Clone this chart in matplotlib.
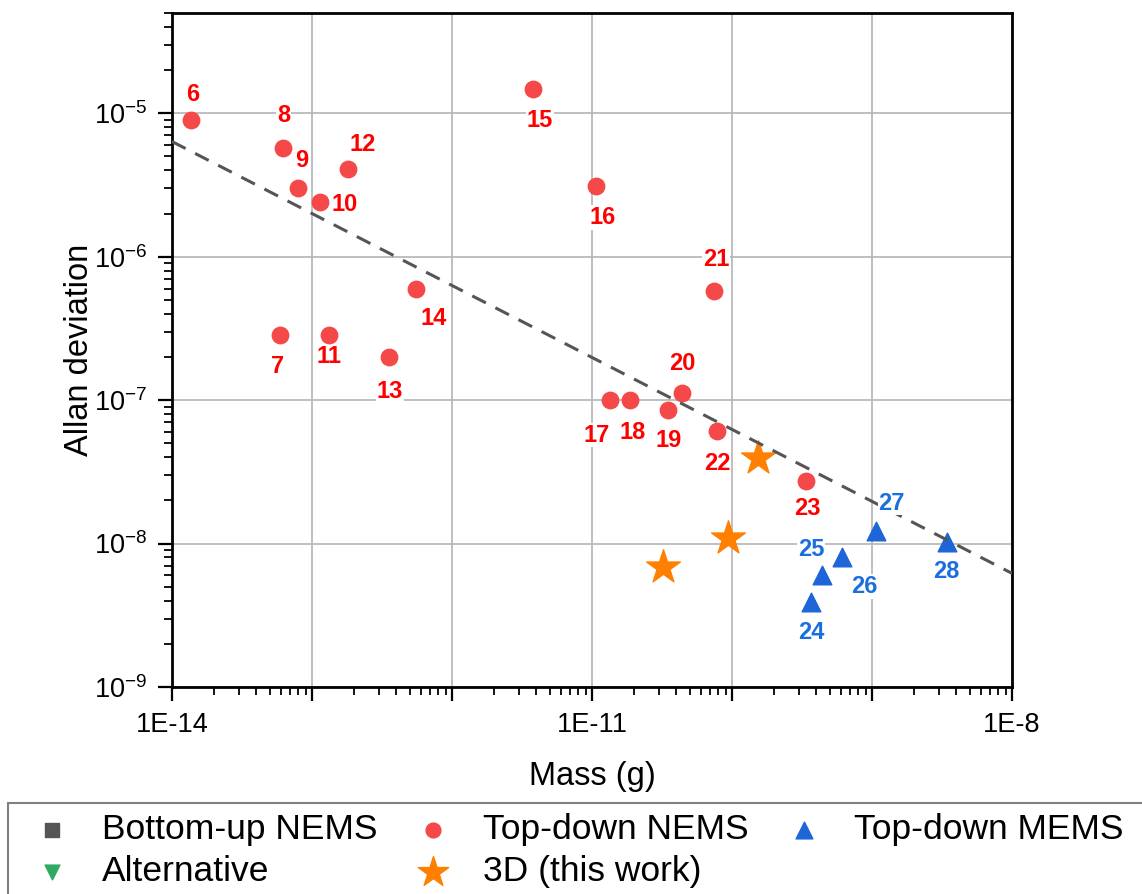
import matplotlib
matplotlib.use("Agg")
import matplotlib.pyplot as plt
from matplotlib.patches import Rectangle
from matplotlib.ticker import LogLocator, FuncFormatter, NullFormatter
import numpy as np

plt.rcParams['font.family'] = ['Liberation Sans', 'DejaVu Sans']
plt.rcParams['mathtext.fontset'] = 'custom'
plt.rcParams['mathtext.rm'] = 'Liberation Sans'

# top-down NEMS (ref numbers 6-23)
nems_ref = [6, 7, 8, 9, 10, 11, 12, 13, 14, 15, 16, 17, 18, 19, 20, 21, 22, 23]
nems_mass = [1.37e-14, 5.9e-14, 6.24e-14, 7.9e-14, 1.15e-13, 1.32e-13, 1.8e-13, 3.53e-13,
             5.5e-13, 3.77e-12, 1.06e-11, 1.35e-11, 1.87e-11, 3.49e-11, 4.4e-11, 7.44e-11,
             7.8e-11, 3.38e-10]
nems_adev = [9.0e-6, 2.85e-7, 5.77e-6, 3.0e-6, 2.42e-6, 2.85e-7, 4.07e-6, 1.99e-7,
             5.96e-7, 1.48e-5, 3.13e-6, 1.0e-7, 1.0e-7, 8.5e-8, 1.13e-7, 5.78e-7,
             6.07e-8, 2.71e-8]

# top-down MEMS (ref numbers 24-28)
mems_ref = [24, 25, 26, 27, 28]
mems_mass = [3.66e-10, 4.42e-10, 6.14e-10, 1.06e-9, 3.42e-9]
mems_adev = [3.93e-9, 6.07e-9, 8.1e-9, 1.22e-8, 1.02e-8]

# this work
work_mass = [3.23e-11, 9.36e-11, 1.53e-10]
work_adev = [6.9e-9, 1.09e-8, 3.94e-8]

# dashed trend line end points
fit_mass = [1e-14, 1e-8]
fit_adev = [6.35e-6, 6.2e-9]

# label offsets in pixels (dx, dy)
nems_off = [(2, 25), (-2, -32), (0, 32), (4, 28), (24, -3), (0, -22), (15, 25), (1, -34),
            (18, -30), (7, -32), (7, -32), (-14, -35), (3, -32), (1, -30), (0, 29), (2, 31),
            (0, -32), (1, -27)]
mems_off = [(0, -31), (-11, 25), (22, -30), (16, 28), (0, -29)]

red_m = '#f54848'
red_t = '#ff0000'
blue_m = '#1e66d8'
blue_t = '#1a6fdf'
orange = '#ff8000'

fig = plt.figure(figsize=(11.42, 8.94), dpi=100)
ax = fig.add_axes([172/1142, 1-687/894, 840/1142, 674/894])

h_bu = ax.scatter([], [], marker='s', s=110, color='#555555', label='Bottom-up NEMS')
h_tdn = ax.scatter(nems_mass, nems_adev, marker='o', s=140, color=red_m, zorder=3,
                   label='Top-down NEMS')
h_tdm = ax.scatter(mems_mass, mems_adev, marker='^', s=180, color=blue_m, zorder=3,
                   label='Top-down MEMS')
h_alt = ax.scatter([], [], marker='v', s=140, color='#2eaa64', label='Alternative')
h_3d = ax.scatter(work_mass, work_adev, marker='*', s=650, color=orange, zorder=3,
                  label='3D (this work)')

ax.plot(fit_mass, fit_adev, ls=(0, (5, 3.5)), lw=2.2, color='#555555', zorder=4)

for r, m, a, o in zip(nems_ref, nems_mass, nems_adev, nems_off):
    ax.annotate(str(r), (m, a), xytext=o, textcoords='offset pixels', ha='center',
                va='center', fontsize=17, fontweight='bold', color=red_t, zorder=5,
                bbox=dict(fc='white', ec='none', pad=0.5))
for r, m, a, o in zip(mems_ref, mems_mass, mems_adev, mems_off):
    ax.annotate(str(r), (m, a), xytext=o, textcoords='offset pixels', ha='center',
                va='center', fontsize=17, fontweight='bold', color=blue_t, zorder=5,
                bbox=dict(fc='white', ec='none', pad=0.5))

ax.set_xscale('log')
ax.set_yscale('log')
ax.set_xlim(1e-14, 1e-8)
ax.set_ylim(1e-9, 5e-5)

ax.xaxis.set_major_locator(LogLocator(base=10, numticks=20))
ax.xaxis.set_minor_locator(LogLocator(base=10, subs=np.arange(2, 10), numticks=20))
ax.yaxis.set_major_locator(LogLocator(base=10, numticks=20))
ax.yaxis.set_minor_locator(LogLocator(base=10, subs=np.arange(2, 10), numticks=20))


def xfmt(v, pos):
    e = int(round(np.log10(v)))
    return f"1E{e}" if e % 3 == 1 else ""


def yfmt(v, pos):
    e = int(round(np.log10(v)))
    return f"$\\mathdefault{{10^{{{e}}}}}$"


ax.xaxis.set_major_formatter(FuncFormatter(xfmt))
ax.yaxis.set_major_formatter(FuncFormatter(yfmt))
ax.xaxis.set_minor_formatter(NullFormatter())
ax.yaxis.set_minor_formatter(NullFormatter())

ax.tick_params(which='major', direction='out', length=10, width=1.6, labelsize=19.5, pad=8)
ax.tick_params(which='minor', direction='out', length=5.5, width=1.3)
for sp in ax.spines.values():
    sp.set_linewidth(2)

ax.grid(which='major', color='#b4b4b4', lw=1.2)
ax.set_axisbelow(True)

ax.set_xlabel('Mass (g)', fontsize=23.5, va='center')
ax.set_ylabel('Allan deviation', fontsize=23.5, va='baseline')
ax.xaxis.set_label_coords(0.5, (687-776)/674)
ax.yaxis.set_label_coords((88-172)/840, 0.5)

# column-major order so rows read: BU, TDN, TDM / Alt, 3D
handles = [h_bu, h_alt, h_tdn, h_3d, h_tdm]
leg = fig.legend(handles, [h.get_label() for h in handles],
                 loc='upper left', bbox_to_anchor=(8/1142, 1-803/894),
                 ncol=3, fontsize=25.5, frameon=False,
                 borderaxespad=0, borderpad=0.29,
                 handlelength=1.92, handletextpad=0.44, columnspacing=0.62,
                 labelspacing=0.26, markerscale=0.9)

# legend box runs past the right and bottom edges of the figure
fig.patches.append(Rectangle((8/1142, -0.05), 1.1, 0.05 + 1-803/894,
                             transform=fig.transFigure, fill=False,
                             edgecolor='#808080', lw=1.5))

fig.savefig('out.png', dpi=100)
